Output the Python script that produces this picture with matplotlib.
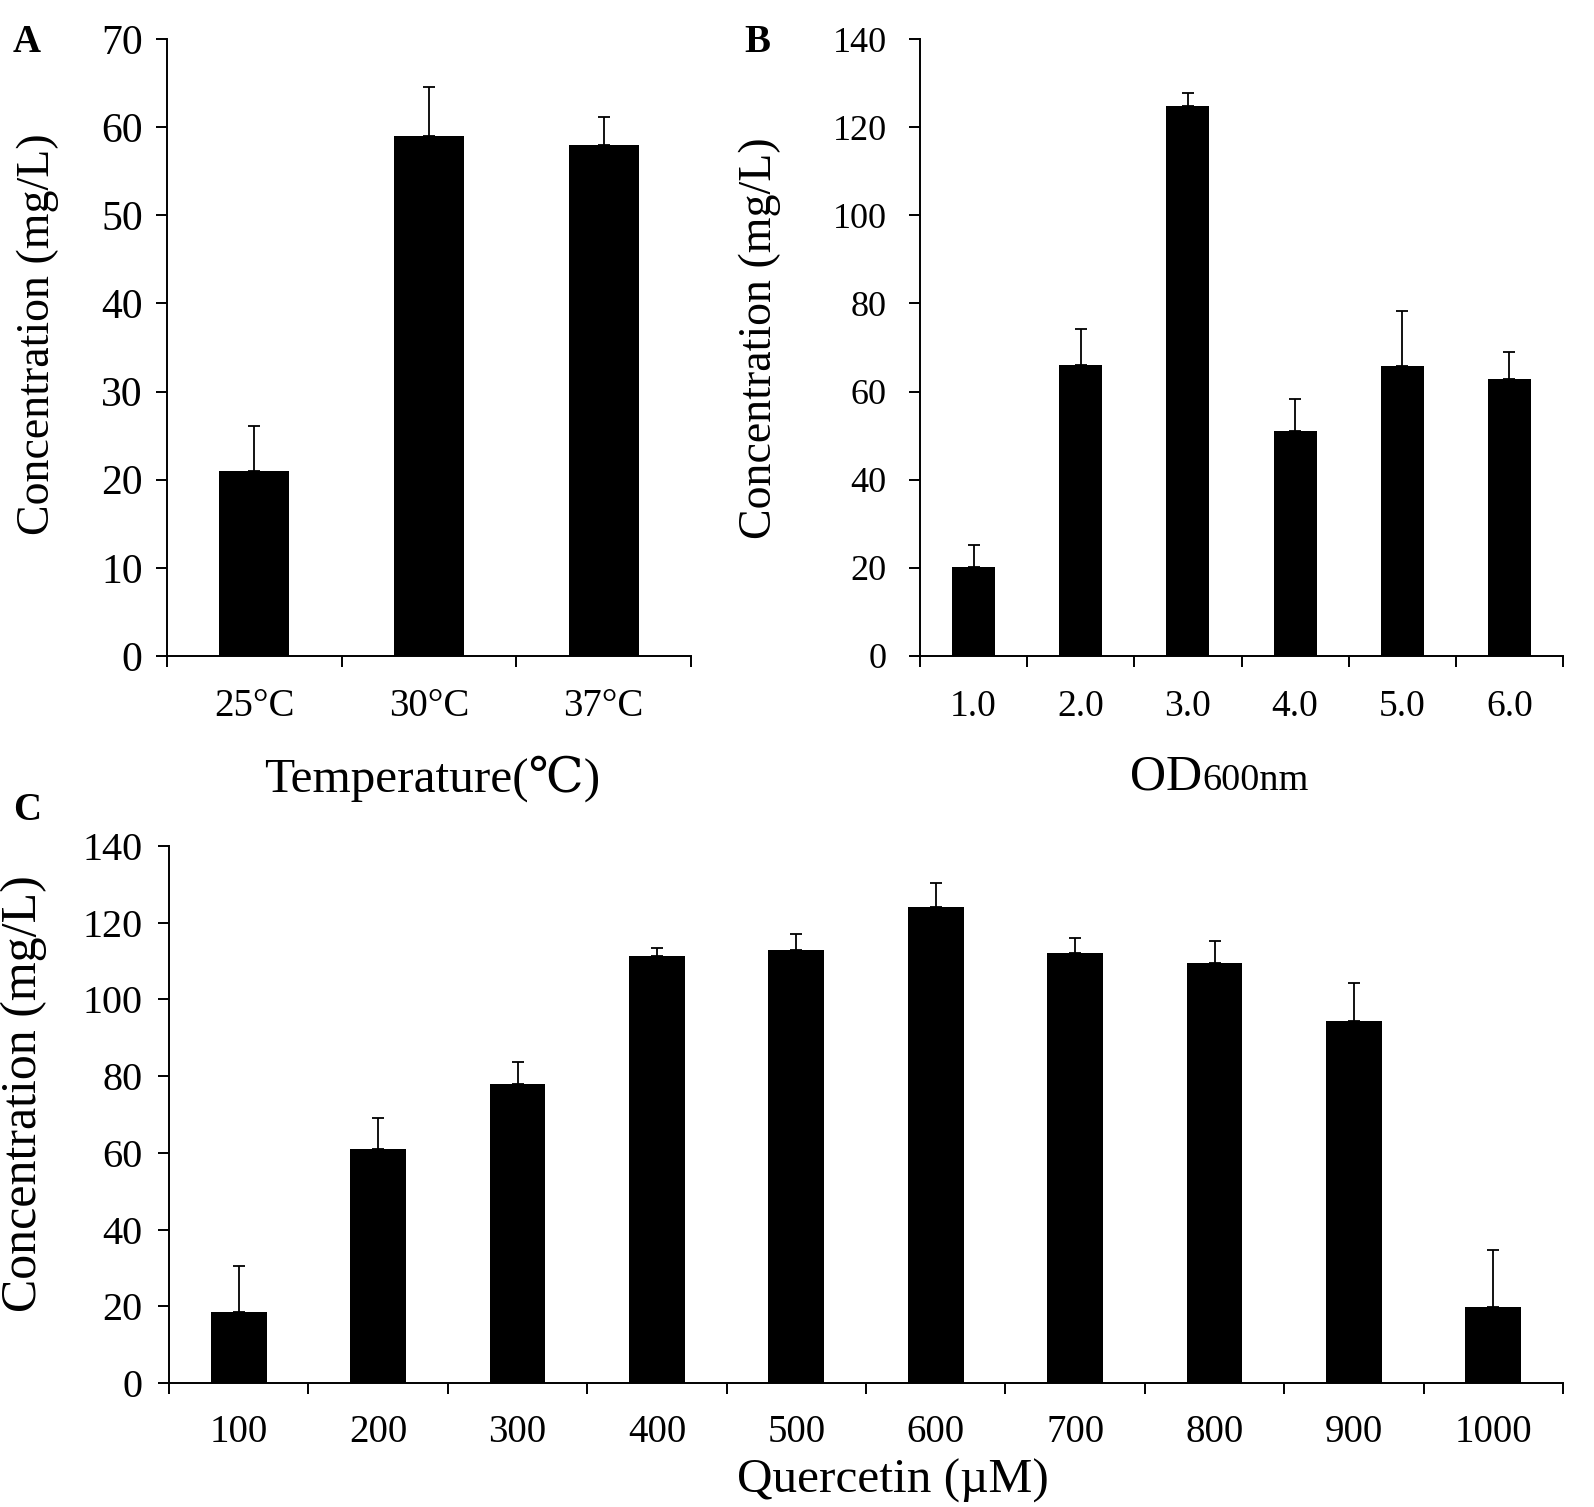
import numpy as np
from matplotlib import pyplot as plt

plt.rcParams['font.family'] = ['Liberation Serif', 'DejaVu Serif', 'Noto Sans CJK JP']

# panel A: temperature
temp_labels = ['25°C', '30°C', '37°C']
temp_vals = [21.0, 59.0, 58.0]
temp_err = [5.1, 5.6, 3.1]

# panel B: OD600 at induction
od_labels = ['1.0', '2.0', '3.0', '4.0', '5.0', '6.0']
od_vals = [20.3, 66.1, 124.7, 51.1, 65.9, 62.9]
od_err = [4.9, 8.0, 3.0, 7.3, 12.3, 6.1]

# panel C: quercetin concentration
que_labels = ['100', '200', '300', '400', '500', '600', '700', '800', '900', '1000']
que_vals = [18.4, 60.9, 78.0, 111.2, 113.0, 124.0, 112.2, 109.6, 94.3, 19.7]
que_err = [12.1, 8.1, 5.6, 2.2, 4.1, 6.4, 3.7, 5.7, 10.1, 15.1]

W, H = 1594, 1507
fig = plt.figure(figsize=(W / 100, H / 100), dpi=100)


def px_axes(left, top, right, bottom):
    return fig.add_axes([left / W, 1 - bottom / H, (right - left) / W, (bottom - top) / H])


def draw_bars(ax, labels, vals, errs, ymax, ystep, xsize, xpad, ysize, ypad):
    n = len(labels)
    x = np.arange(n) + 0.5
    ax.bar(x, vals, width=0.4, color='black', zorder=2)
    ax.errorbar(x, vals, yerr=[np.zeros(n), errs], fmt='none', ecolor='black',
                elinewidth=1.3, capsize=4.5, capthick=1.3, zorder=3)
    ax.set_xlim(0, n)
    ax.set_ylim(0, ymax)
    ax.set_yticks(np.arange(0, ymax + 1, ystep))
    ax.set_xticks(x)
    ax.set_xticklabels(labels)
    ax.set_xticks(np.arange(n + 1), minor=True)
    for s in ['top', 'right']:
        ax.spines[s].set_visible(False)
    for s in ['left', 'bottom']:
        ax.spines[s].set_linewidth(1.4)
    ax.tick_params(axis='x', which='major', length=0, pad=xpad, labelsize=xsize)
    ax.tick_params(axis='x', which='minor', length=8, width=1.4, direction='out')
    ax.tick_params(axis='y', length=8, width=1.4, direction='out', pad=ypad, labelsize=ysize)


axA = px_axes(167, 39, 691, 656)
draw_bars(axA, temp_labels, temp_vals, temp_err, 70, 10, 28, 23, 30, 9.5)
axB = px_axes(920, 39, 1563, 656)
draw_bars(axB, od_labels, od_vals, od_err, 140, 20, 27, 24, 26, 16)
axC = px_axes(169, 846, 1563, 1383)
draw_bars(axC, que_labels, que_vals, que_err, 140, 20, 28, 22, 29, 11)

ylab = 'Concentration (mg/L)'
fig.text(38 / W, 1 - 334 / H, ylab, rotation=90, ha='center', va='center', fontsize=33)
fig.text(760 / W, 1 - 338 / H, ylab, rotation=90, ha='center', va='center', fontsize=33)
fig.text(24 / W, 1 - 1094 / H, ylab, rotation=90, ha='center', va='center', fontsize=36)

fig.text(432 / W, 1 - 792 / H, 'Temperature(℃)', ha='center', va='baseline', fontsize=35.5)
fig.text(1202 / W, 1 - 790 / H, 'OD', ha='right', va='baseline', fontsize=36)
fig.text(1202 / W, 1 - 790 / H, '600nm', ha='left', va='baseline', fontsize=27.5)
fig.text(893 / W, 1 - 1493 / H, 'Quercetin (µM)', ha='center', va='baseline', fontsize=35.5)

for lab, xx, yy in [('A', 27, 43), ('B', 757, 43), ('C', 27, 810)]:
    fig.text(xx / W, 1 - yy / H, lab, ha='center', va='center', fontsize=28, fontweight='bold')

plt.savefig('out.png', dpi=100)
